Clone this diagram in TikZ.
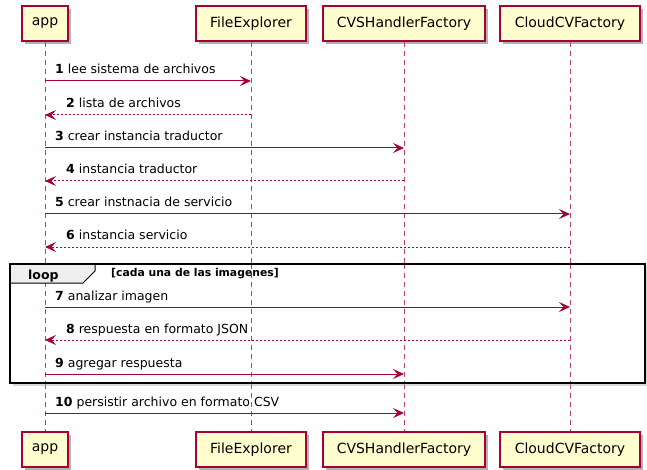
\documentclass[tikz,border=0pt]{standalone}
\usepackage{fontspec}
\setmainfont{DejaVu Sans}
\usetikzlibrary{arrows.meta,shadows}
\definecolor{umlred}{HTML}{A80036}
\definecolor{umlfill}{HTML}{FEFECE}
\definecolor{tabfill}{HTML}{EEEEEE}
\tikzset{
  part/.style={draw=umlred, line width=1.2pt, fill=umlfill, minimum height=35pt,
    inner xsep=0pt, font=\fontsize{14}{17}\selectfont,
    drop shadow={shadow xshift=3pt, shadow yshift=-3pt, opacity=0.3, fill=black}},
  lifeline/.style={draw=umlred!75, line width=0.9pt, dash pattern=on 5pt off 4pt},
  call/.style={draw=umlred, line width=1pt, -{Stealth[length=11pt,width=10pt,inset=4.5pt]}},
  reply/.style={call, dash pattern=on 2pt off 2pt},
  msg/.style={anchor=base west, inner sep=0pt, font=\fontsize{12.5}{15}\selectfont},
  frameline/.style={draw=black, line width=1.8pt}
}
\newcommand{\num}[1]{\textbf{#1}\ }
\begin{document}
\begin{tikzpicture}[x=1pt, y=-1pt]
  \useasboundingbox (0,0) rectangle (647,470);

  % participants, top and bottom
  \node[part, minimum width=46pt]  (appT)   at (45,23.5)  {app};
  \node[part, minimum width=110pt] (feT)    at (251,23.5) {FileExplorer};
  \node[part, minimum width=162pt] (cvsT)   at (404,23.5) {CVSHandlerFactory};
  \node[part, minimum width=140pt] (cloudT) at (570,23.5) {CloudCVFactory};
  \node[part, minimum width=46pt]  (appB)   at (45,449.5)  {app};
  \node[part, minimum width=110pt] (feB)    at (251,449.5) {FileExplorer};
  \node[part, minimum width=162pt] (cvsB)   at (404,449.5) {CVSHandlerFactory};
  \node[part, minimum width=140pt] (cloudB) at (570,449.5) {CloudCVFactory};

  % lifelines
  \draw[lifeline] (appT.south)   -- (appB.north);
  \draw[lifeline] (feT.south)    -- (feB.north);
  \draw[lifeline] (cvsT.south)   -- (cvsB.north);
  \draw[lifeline] (cloudT.south) -- (cloudB.north);

  % loop frame
  \fill[black!30, opacity=0.5] (13,267) rectangle (648,386);
  \fill[white] (10,264) rectangle (645,383);
  \draw[lifeline] (appT.south |- 0,264) -- (appT.south |- 0,383);
  \draw[lifeline] (feT.south |- 0,264) -- (feT.south |- 0,383);
  \draw[lifeline] (cvsT.south |- 0,264) -- (cvsT.south |- 0,383);
  \draw[lifeline] (cloudT.south |- 0,264) -- (cloudT.south |- 0,383);
  \filldraw[fill=tabfill, draw=black, line width=1pt]
    (10,264) -- (95,264) -- (95,271) -- (83,283) -- (10,283) -- cycle;
  \draw[frameline] (10,264) rectangle (645,383);
  \node[anchor=base west, inner sep=0pt, font=\fontsize{12.5}{15}\selectfont\bfseries]
    (looplbl) at (28,279) {loop};
  \node[anchor=base west, inner sep=0pt, font=\fontsize{10.8}{13}\selectfont\bfseries]
    (guard) at (111,276) {[cada una de las imagenes]};

  % message end points
  \foreach \i/\y in {1/81,2/115,3/148,4/181,5/214,6/247,7/307,8/340,9/374,10/413} {
    \coordinate (a\i) at (appT.south |- 0,\y);
    \coordinate (f\i) at (feT.south |- 0,\y);
    \coordinate (h\i) at (cvsT.south |- 0,\y);
    \coordinate (c\i) at (cloudT.south |- 0,\y);
  }

  % messages
  \draw[call]  (a1) -- (f1);
  \node[msg] (t1) at ([shift={(10,-7)}]a1) {\num{1}lee sistema de archivos};
  \draw[reply] (f2) -- (a2);
  \node[msg] (t2) at ([shift={(21,-7)}]a2) {\num{2}lista de archivos};
  \draw[call]  (a3) -- (h3);
  \node[msg] (t3) at ([shift={(10,-7)}]a3) {\num{3}crear instancia traductor};
  \draw[reply] (h4) -- (a4);
  \node[msg] (t4) at ([shift={(21,-7)}]a4) {\num{4}instancia traductor};
  \draw[call]  (a5) -- (c5);
  \node[msg] (t5) at ([shift={(10,-7)}]a5) {\num{5}crear instnacia de servicio};
  \draw[reply] (c6) -- (a6);
  \node[msg] (t6) at ([shift={(21,-7)}]a6) {\num{6}instancia servicio};
  \draw[call]  (a7) -- (c7);
  \node[msg] (t7) at ([shift={(10,-7)}]a7) {\num{7}analizar imagen};
  \draw[reply] (c8) -- (a8);
  \node[msg] (t8) at ([shift={(21,-7)}]a8) {\num{8}respuesta en formato JSON};
  \draw[call]  (a9) -- (h9);
  \node[msg] (t9) at ([shift={(10,-7)}]a9) {\num{9}agregar respuesta};
  \draw[call]  (a10) -- (h10);
  \node[msg] (t10) at ([shift={(10,-7)}]a10) {\num{10}persistir archivo en formato CSV};
\end{tikzpicture}
\end{document}
